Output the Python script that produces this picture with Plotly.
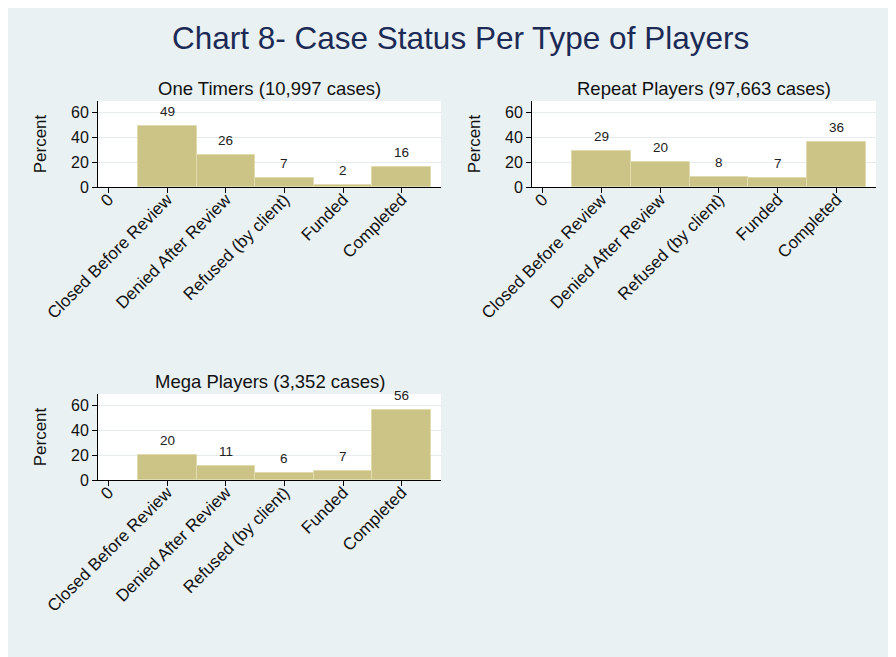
import plotly.graph_objects as go

# case status categories (coded 1-5 as in the source histogram)
status_codes = [1, 2, 3, 4, 5]
status_labels = ["Closed Before Review", "Denied After Review", "Refused (by client)", "Funded", "Completed"]

panel_titles = ["One Timers (10,997 cases)", "Repeat Players (97,663 cases)", "Mega Players (3,352 cases)"]
one_timers = [49, 26, 7, 2, 16]
repeat_players = [29, 20, 8, 7, 36]
mega_players = [20, 11, 6, 7, 56]

W, H = 896, 657
OFF = 8  # the page body adds an 8px margin around the figure
FW, FH = W - OFF, H - OFF
BG = "#EAF1F3"
BAR = "#CCC387"
BAR_LINE = "#E0DCB0"
FONT = "Liberation Sans, Arial, sans-serif"


def px(x):
    return (x - OFF) / FW


def py(y):
    return 1 - (y - OFF) / FH


# plot areas in screen pixels: (left, right, top, bottom)
boxes = [(98, 441, 101, 187), (532, 876, 101, 187), (98, 441, 394, 480)]

fig = go.Figure()
series = [one_timers, repeat_players, mega_players]

for i, (vals, title, box) in enumerate(zip(series, panel_titles, boxes)):
    n = "" if i == 0 else str(i + 1)
    l, r, t, b = box
    fig.add_trace(go.Bar(
        x=status_codes, y=vals, width=1,
        marker=dict(color=BAR, line=dict(color=BAR_LINE, width=1)),
        xaxis="x" + n, yaxis="y" + n, showlegend=False, hoverinfo="x+y",
    ))
    for xv, yv in zip(status_codes, vals):
        fig.add_annotation(x=xv, y=yv, text=str(yv), xref="x" + n, yref="y" + n,
                           showarrow=False, xanchor="center", yanchor="bottom", yshift=5,
                           font=dict(size=13.5, color="#222222", family=FONT))
    fig.add_annotation(x=px((l + r) / 2), y=py(t - 13), xref="paper", yref="paper",
                       text=title, showarrow=False, xanchor="center", yanchor="middle",
                       font=dict(size=18.5, color="#111111", family=FONT))
    fig.layout["xaxis" + n] = dict(
        domain=[px(l), px(r)], anchor="y" + n, range=[-0.18, 5.67],
        tickmode="array", tickvals=[0] + status_codes, ticktext=["0"] + status_labels,
        tickangle=-45, ticks="outside", ticklen=5, tickcolor="#000000",
        ticklabelstandoff=-10,
        showline=True, linecolor="#000000", linewidth=1, showgrid=False, zeroline=False,
        tickfont=dict(size=17, color="#111111", family=FONT), automargin=False,
    )
    fig.layout["yaxis" + n] = dict(
        domain=[py(b), py(t)], anchor="x" + n, range=[0, 69],
        tickvals=[0, 20, 40, 60], ticks="outside", ticklen=5, tickcolor="#000000",
        showline=True, linecolor="#000000", linewidth=1,
        showgrid=True, gridcolor="#E4ECEE", gridwidth=1, zeroline=False,
        tickfont=dict(size=16, color="#111111", family=FONT), automargin=False,
        title=dict(text="Percent", font=dict(size=17, color="#111111", family=FONT), standoff=20),
    )

fig.add_annotation(x=px(460), y=py(38), xref="paper", yref="paper",
                   text="Chart 8- Case Status Per Type of Players", showarrow=False,
                   xanchor="center", yanchor="middle",
                   font=dict(size=31.5, color="#1C2A56", family=FONT))

fig.update_layout(
    width=FW, height=FH, margin=dict(l=0, r=0, t=0, b=0),
    paper_bgcolor=BG, plot_bgcolor="white", bargap=0,
    font=dict(family=FONT),
)

fig.write_html("out.html")
